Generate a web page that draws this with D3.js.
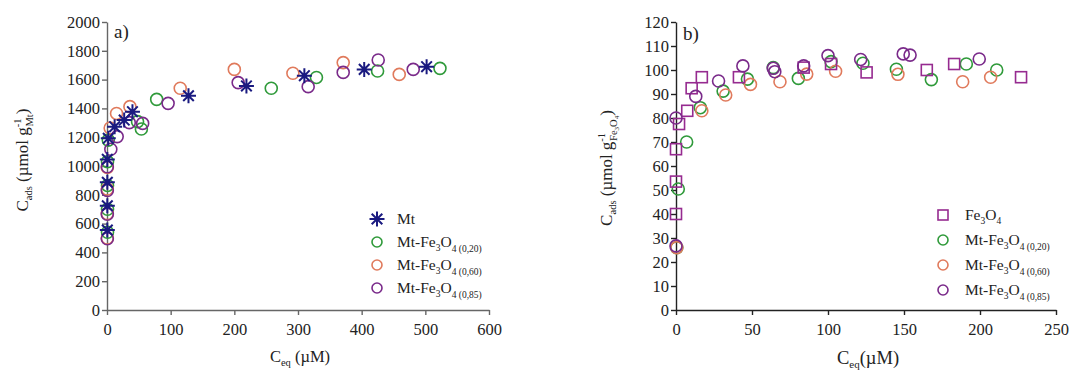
<!DOCTYPE html>
<html><head><meta charset="utf-8">
<script src="https://cdn.jsdelivr.net/npm/d3@7"></script>
<style>body{margin:0;background:#fff}svg{display:block}text{font-family:"Liberation Serif","Times New Roman",serif;fill:#222}</style>
</head><body><svg id="c" width="1070" height="372"></svg>
<script>
// ---- Panel a) data ----
const aXTicks = [0,100,200,300,400,500,600];
const aYTicks = [0,200,400,600,800,1000,1200,1400,1600,1800,2000];
const mtX = [0.5,0.5,0.5,0.5,2,12,27,40,128,219,310,404,502];
const mtY = [555,724,887,1046,1192,1273,1319,1377,1488,1556,1627,1671,1690];
const a20X = [0.8,0.8,0.8,0.8,2,48,54,78,258,329,425,523];
const a20Y = [540,700,865,1030,1180,1308,1257,1463,1540,1615,1660,1678];
const a60X = [0.5,0.5,0.5,0.5,5,15,36,115,200,292,371,459];
const a60Y = [500,670,840,990,1264,1365,1412,1540,1671,1644,1718,1636];
const a85X = [0.5,0.5,0.5,0.5,6,16,35,56,96,206,316,371,426,481];
const a85Y = [495,665,830,995,1116,1204,1301,1296,1435,1579,1551,1650,1736,1671];
// ---- Panel b) data ----
const bXTicks = [0,50,100,150,200,250];
const bYTicks = [0,10,20,30,40,50,60,70,80,90,100,110,120];
const feX = [0,0,0,2,7.4,10.3,17,41.4,84,102,125.4,165,183,227];
const feY = [40,53.5,67,77.5,83,92.4,97,97,101,102.5,99,100,102.5,97];
const b20X = [0.5,1.5,7,16,31,47,64,80.5,102,123,145,168,191,211];
const b20Y = [26,50.4,70,84.3,91.2,96.2,101,96.5,103.5,102.8,100.3,96,102.5,100];
const b60X = [0.5,17,32.7,49,68.4,86,105,146,188.6,207];
const b60Y = [26,83,89.6,94,95.1,98.3,99.5,98.2,95.1,97];
const b85X = [0,0,13,28,44,64,65,84,100,121.5,149.5,154,199.5];
const b85Y = [26.7,80,89,95.4,101.7,100.7,99.3,101.7,106,104.4,106.7,106.2,104.6];

const C = {mt:'#1a1a80', g:'#2f9a3a', o:'#e07a5c', p:'#7a2a8a', sq:'#962b90'};

const svg = d3.select('#c');
const zip = (xs, ys) => xs.map((x,i)=>[x, ys[i]]);
const SERIF = '"Liberation Serif","Times New Roman",serif';

function rich(parent, x, y, parts, opts={}){
  const t = parent.append('text').attr('x',x).attr('y',y).style('font-family',SERIF);
  if(opts.anchor) t.attr('text-anchor',opts.anchor);
  if(opts.transform) t.attr('transform',opts.transform);
  parts.forEach(p=>{
    const s = t.append('tspan').text(p.t).style('font-size',(p.s||opts.size||16)+'px');
    if(p.dy) s.attr('dy',p.dy);
    if(p.dx) s.attr('dx',p.dx);
  });
  return t;
}

function panel(cfg){
  const g = svg.append('g');
  const x = d3.scaleLinear().domain(cfg.xd).range(cfg.xr);
  const y = d3.scaleLinear().domain(cfg.yd).range([310,22]);
  const xa = g.append('g').attr('transform','translate(0,310)')
    .call(d3.axisBottom(x).tickValues(cfg.xt).tickFormat(d3.format('d')).tickSize(5).tickPadding(4).tickSizeOuter(0));
  const ya = g.append('g').attr('transform',`translate(${cfg.xr[0]},0)`)
    .call(d3.axisLeft(y).tickValues(cfg.yt).tickFormat(d3.format('d')).tickSize(5).tickPadding(2).tickSizeOuter(0));
  [xa,ya].forEach(a=>{
    a.attr('font-family',SERIF);
    a.selectAll('path,line').attr('stroke',cfg.axisColor).attr('stroke-width',1.4);
    a.selectAll('text').style('font-size','16.5px').style('font-family',SERIF).attr('fill','#222');
  });
  xa.selectAll('text').attr('dy','0.95em');
  return {g,x,y};
}

function circles(p, data, col){
  p.g.append('g').selectAll('circle').data(data).join('circle')
    .attr('cx',d=>p.x(d[0])).attr('cy',d=>p.y(d[1])).attr('r',6)
    .attr('fill','none').attr('stroke',col).attr('stroke-width',1.6);
}
const starPath = (()=>{const r=7.5;let s='';[0,45,90,135].forEach(a=>{const c=Math.cos(a*Math.PI/180)*r,sn=Math.sin(a*Math.PI/180)*r;s+=`M${-c},${-sn}L${c},${sn}`;});return s;})();
function stars(p, data, col){
  p.g.append('g').selectAll('path').data(data).join('path')
    .attr('transform',d=>`translate(${p.x(d[0])},${p.y(d[1])})`)
    .attr('d',starPath).attr('stroke',col).attr('stroke-width',2).attr('fill','none');
}
function squares(p, data, col){
  p.g.append('g').selectAll('rect').data(data).join('rect')
    .attr('x',d=>p.x(d[0])-5.5).attr('y',d=>p.y(d[1])-5.5).attr('width',11).attr('height',11)
    .attr('fill','none').attr('stroke',col).attr('stroke-width',1.6);
}
function legendLabel(g, x, y, sub){
  return rich(g, x, y, [{t:'Mt-Fe'},{t:'3',s:9.5,dy:4},{t:'O',dy:-4},{t:'4 '+sub,s:9.5,dy:5}], {size:15.5});
}

// ---- Panel a ----
const A = panel({xd:[0,600], xr:[107,489], yd:[0,2000], xt:aXTicks, yt:aYTicks, axisColor:'#666'});
circles(A, zip(a20X,a20Y), C.g);
circles(A, zip(a60X,a60Y), C.o);
circles(A, zip(a85X,a85Y), C.p);
stars(A, zip(mtX,mtY), C.mt);
A.g.append('text').attr('x',114).attr('y',38).text('a)').style('font-size','19px').style('font-family',SERIF);
rich(A.g, 300, 362, [{t:'C'},{t:'eq',s:10.5,dy:4},{t:' (µM)',dy:-4}], {size:16.5, anchor:'middle'});
rich(A.g, 0, 0, [{t:'C'},{t:'ads',s:10.5,dy:4},{t:' (µmol g',dy:-4},{t:'-1',s:10.5,dy:-7},{t:'Mt',s:10.5,dx:-8,dy:12},{t:')',dy:-5}],
  {size:17, anchor:'middle', transform:'translate(28,160) rotate(-90)'});
// legend a
const LA = A.g.append('g');
const la = [{k:'mt',y:219},{k:'g',y:242,s:'(0,20)'},{k:'o',y:265,s:'(0,60)'},{k:'p',y:288,s:'(0,85)'}];
la.forEach(d=>{
  if(d.k==='mt'){
    LA.append('path').attr('transform',`translate(377,${d.y})`).attr('d',starPath).attr('stroke',C.mt).attr('stroke-width',2);
    rich(LA, 397, d.y+5, [{t:'Mt'}], {size:15.5});
  } else {
    LA.append('circle').attr('cx',377).attr('cy',d.y).attr('r',5).attr('fill','none').attr('stroke',C[d.k]).attr('stroke-width',1.6);
    legendLabel(LA, 397, d.y+5, d.s);
  }
});

// ---- Panel b ----
const B = panel({xd:[0,250], xr:[676,1056], yd:[0,120], xt:bXTicks, yt:bYTicks, axisColor:'#222'});
circles(B, zip(b20X,b20Y), C.g);
circles(B, zip(b60X,b60Y), C.o);
squares(B, zip(feX,feY), C.sq);
circles(B, zip(b85X,b85Y), C.p);
B.g.append('text').attr('x',683).attr('y',40).text('b)').style('font-size','19px').style('font-family',SERIF);
rich(B.g, 868, 364, [{t:'C'},{t:'eq',s:11,dy:4},{t:'(µM)',dy:-4}], {size:18.5, anchor:'middle'});
rich(B.g, 0, 0, [{t:'C'},{t:'ads',s:10.5,dy:4},{t:' (µmol g',dy:-4},{t:'-1',s:10.5,dy:-7},{t:'Fe',s:10.5,dx:-8,dy:12},{t:'3',s:7,dy:2},{t:'O',s:10.5,dy:-2},{t:'4',s:7,dy:2},{t:')',dy:-7}],
  {size:17, anchor:'middle', transform:'translate(612,168) rotate(-90)'});
const LB = B.g.append('g');
const lb = [{k:'sq',y:215},{k:'g',y:240,s:'(0,20)'},{k:'o',y:265,s:'(0,60)'},{k:'p',y:290,s:'(0,85)'}];
lb.forEach(d=>{
  if(d.k==='sq'){
    LB.append('rect').attr('x',938).attr('y',d.y-5).attr('width',10).attr('height',10).attr('fill','none').attr('stroke',C.sq).attr('stroke-width',1.6);
    rich(LB, 965, d.y+5, [{t:'Fe'},{t:'3',s:9.5,dy:4},{t:'O',dy:-4},{t:'4',s:9.5,dy:4}], {size:15.5});
  } else {
    LB.append('circle').attr('cx',943).attr('cy',d.y).attr('r',5).attr('fill','none').attr('stroke',C[d.k]).attr('stroke-width',1.6);
    legendLabel(LB, 965, d.y+5, d.s);
  }
});
</script></body></html>
